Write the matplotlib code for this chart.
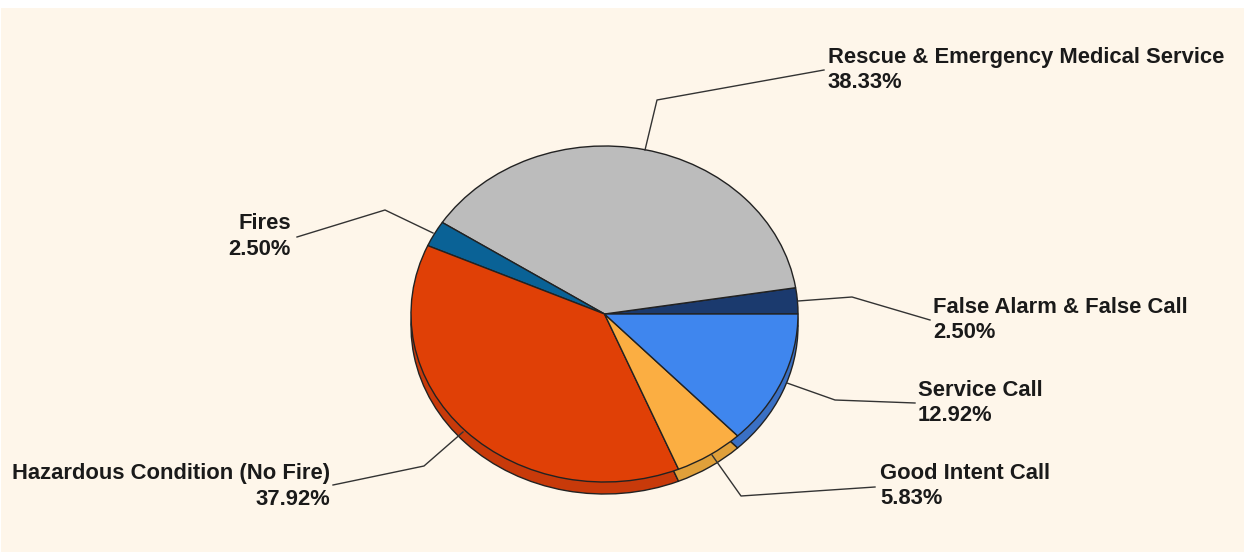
import matplotlib
matplotlib.use('Agg')
import matplotlib.pyplot as plt
from matplotlib.patches import Rectangle

labels = ['False Alarm & False Call', 'Rescue & Emergency Medical Service', 'Fires',
          'Hazardous Condition (No Fire)', 'Good Intent Call', 'Service Call']
values = [2.50, 38.33, 2.50, 37.92, 5.83, 12.92]
colors = ['#1b3a6e', '#bcbcbc', '#0a6296', '#e04006', '#fbae42', '#3f86ee']
side_colors = ['#1b3a6e', '#a8a8a8', '#0a5580', '#c83a0a', '#e0a03a', '#3a70c4']

W, H = 1244, 552
BG = '#fef6ea'
INK = '#1a1a1a'

# pie ellipse in pixels
cx, cy, rx, ry, depth = 604.5, 314, 193.5, 168, 12

# label text anchor (px), alignment, leader polyline (px)
label_pos = [(933, 320, 'left'), (828, 70, 'left'), (291, 236.5, 'right'),
             (330, 486.5, 'right'), (880, 486, 'left'), (918, 403, 'left')]
leaders = [[(798, 301), (852, 297), (930, 320)],
           [(645, 150), (657, 100), (824, 70)],
           [(433, 233), (385, 210), (297, 237)],
           [(463, 432), (424, 466), (333, 485)],
           [(712, 455), (741, 496), (875, 487)],
           [(787, 383), (835, 400), (915, 403)]]

fig = plt.figure(figsize=(W / 100, H / 100), dpi=100, facecolor='white')
fig.add_artist(Rectangle((1 / W, 0), 1, 1 - 8 / H, transform=fig.transFigure,
                         facecolor=BG, edgecolor='none', zorder=-1))

# the pie, unit radius stretched to the ellipse
ax = fig.add_axes([(cx - rx) / W, 1 - (cy + ry + depth) / H, 2 * rx / W, (2 * ry + depth) / H])
ax.patch.set_alpha(0)
off = -2 * depth / (2 * ry)
ax.pie(values, colors=side_colors, startangle=0, center=(0, off), radius=1,
       wedgeprops=dict(edgecolor='#222222', linewidth=1.0))
ax.pie(values, colors=colors, startangle=0, center=(0, 0), radius=1,
       wedgeprops=dict(edgecolor='#222222', linewidth=1.0))
ax.set_aspect('auto')
ax.set_xlim(-1, 1)
ax.set_ylim(-1 + off, 1)

# labels and leaders sit on top, in pixel coordinates
top = fig.add_axes([0, 0, 1, 1], zorder=3)
top.patch.set_alpha(0)
top.set_xlim(0, W)
top.set_ylim(H, 0)
top.axis('off')

for pts in leaders:
    top.plot([p[0] for p in pts], [p[1] for p in pts], color='#333333', lw=1.0)

for lab, val, (x, y, ha) in zip(labels, values, label_pos):
    top.text(x, y, '%s\n%.2f%%' % (lab, val), ha=ha, va='center',
             multialignment=ha, fontsize=15.8, fontweight='bold', color=INK,
             family='Liberation Sans', linespacing=1.28)

fig.savefig('out.png', dpi=100, facecolor=fig.get_facecolor())
